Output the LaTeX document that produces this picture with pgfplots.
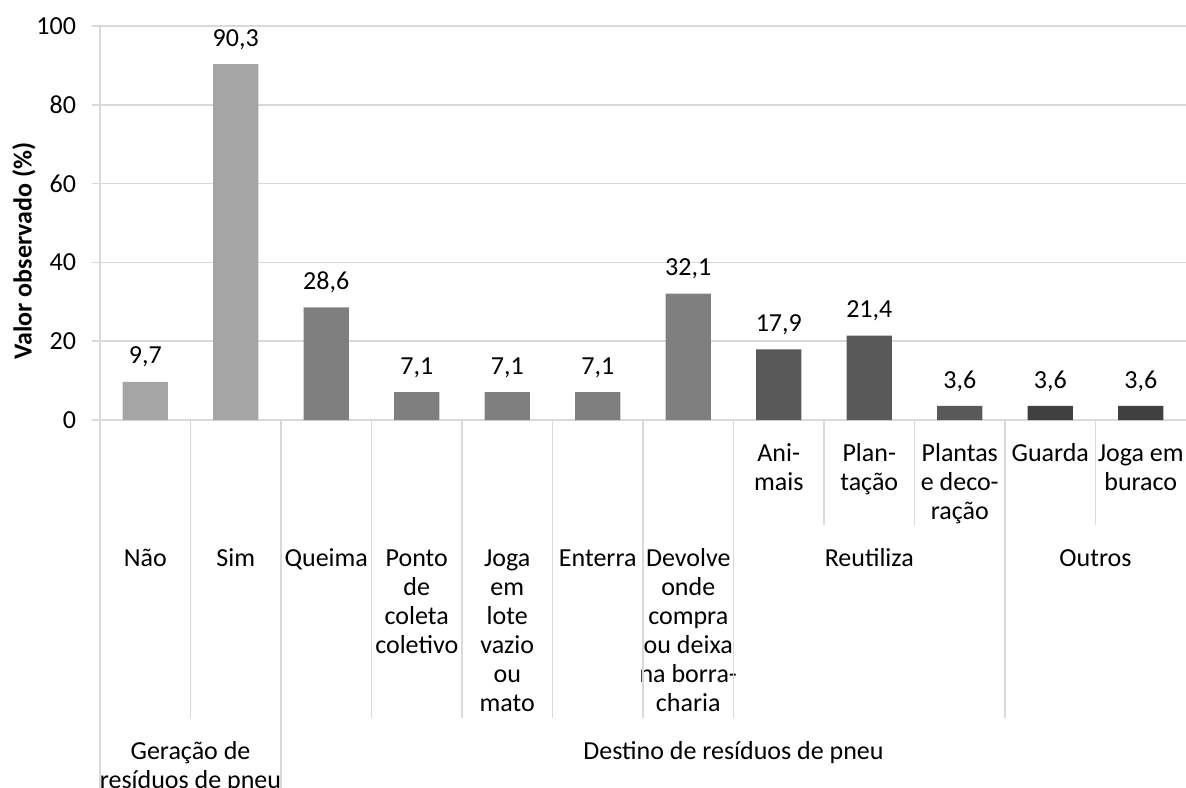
\documentclass[border=0pt]{standalone}
\usepackage{fontspec}
\setmainfont{Carlito}
\usepackage{pgfplots}
\pgfplotsset{compat=1.18}

\definecolor{light}{HTML}{A5A5A5}
\definecolor{mid}{HTML}{7F7F7F}
\definecolor{dark}{HTML}{595959}
\definecolor{darker}{HTML}{404040}
\definecolor{gridc}{HTML}{D9D9D9}

\begin{document}
\begin{tikzpicture}[font=\fontsize{13}{14.5}\selectfont,
  lab/.style={anchor=north, align=center, inner sep=0pt},
  sep/.style={draw=gridc, line width=0.75pt}]
\begin{axis}[
  at={(0,0)}, anchor=south west,
  scale only axis, width=543pt, height=197pt,
  xmin=-0.5, xmax=11.5, ymin=0, ymax=100,
  axis lines=left, axis line style={draw=gridc, line width=0.75pt, -},
  ytick={0,20,...,100}, ymajorgrids,
  grid style={draw=gridc, line width=0.75pt},
  tick align=outside, major tick length=4pt,
  ytick style={draw=gridc, line width=0.75pt},
  xtick style={draw=none},
  yticklabel style={xshift=-4.5pt},
  /pgf/number format/assume math mode=true,
  xtick={7,...,11},
  xticklabels={{\strut Ani-\\mais},{\strut Plan-\\tação},{\strut Plantas\\e deco-\\ração},{\strut Guarda},{\strut Joga em\\buraco}},
  xticklabel style={align=center, anchor=north, inner sep=0pt, yshift=-6.4pt},
  extra x ticks={0,...,6},
  extra x tick labels={{\strut Não},{\strut Sim},{\strut Queima},{\strut Ponto\\de\\coleta\\coletivo},{\strut Joga\\em\\lote\\vazio\\ou\\mato},{\strut Enterra},{\strut Devolve\\onde\\compra\\ou deixa\\na borra-\\charia}},
  extra x tick style={xticklabel style={yshift=-56.5pt}, major tick length=0pt},
  bar width=0.5,
  nodes near coords={\pgfmathprintnumber[fixed, fixed zerofill, precision=1, use comma]{\pgfplotspointmeta}},
  every node near coord/.append style={text=black, anchor=base, yshift=8.9pt, inner sep=0pt},
  ylabel={\bfseries Valor observado (\%)},
  every axis y label/.style={at={(rel axis cs:0,0.429)}, xshift=-38pt, rotate=90, anchor=center},
  clip=false,
]
\addplot[ybar, fill=light, draw=none] coordinates {(0,9.7) (1,90.3)};
\addplot[ybar, fill=mid, draw=none] coordinates {(2,28.6) (3,7.1) (4,7.1) (5,7.1) (6,32.1)};
\addplot[ybar, fill=dark, draw=none] coordinates {(7,17.9) (8,21.4) (9,3.6)};
\addplot[ybar, fill=darker, draw=none] coordinates {(10,3.6) (11,3.6)};

% separators of the multi-level category axis
\draw[sep] (axis cs:-0.5,0) -- ([yshift=-190pt]axis cs:-0.5,0);
\draw[sep] (axis cs:0.5,0) -- ([yshift=-149pt]axis cs:0.5,0);
\draw[sep] (axis cs:1.5,0) -- ([yshift=-190pt]axis cs:1.5,0);
\draw[sep] (axis cs:2.5,0) -- ([yshift=-149pt]axis cs:2.5,0);
\draw[sep] (axis cs:3.5,0) -- ([yshift=-149pt]axis cs:3.5,0);
\draw[sep] (axis cs:4.5,0) -- ([yshift=-149pt]axis cs:4.5,0);
\draw[sep] (axis cs:5.5,0) -- ([yshift=-149pt]axis cs:5.5,0);
\draw[sep] (axis cs:6.5,0) -- ([yshift=-149pt]axis cs:6.5,0);
\draw[sep] (axis cs:7.5,0) -- ([yshift=-52.5pt]axis cs:7.5,0);
\draw[sep] (axis cs:8.5,0) -- ([yshift=-52.5pt]axis cs:8.5,0);
\draw[sep] (axis cs:9.5,0) -- ([yshift=-149pt]axis cs:9.5,0);
\draw[sep] (axis cs:10.5,0) -- ([yshift=-52.5pt]axis cs:10.5,0);

% group labels
\node[lab, yshift=-62.9pt] at (axis cs:8,0) {\strut Reutiliza};
\node[lab, yshift=-62.9pt] at (axis cs:10.5,0) {\strut Outros};
\node[lab, yshift=-159.4pt] at (axis cs:0.5,0) {\strut Geração de\\resíduos de pneu};
\node[lab, yshift=-159.4pt] at (axis cs:6.5,0) {\strut Destino de resíduos de pneu};
\end{axis}
\pgfresetboundingbox
\useasboundingbox (-50pt,-183.5pt) rectangle (543pt,210pt);
\end{tikzpicture}
\end{document}
